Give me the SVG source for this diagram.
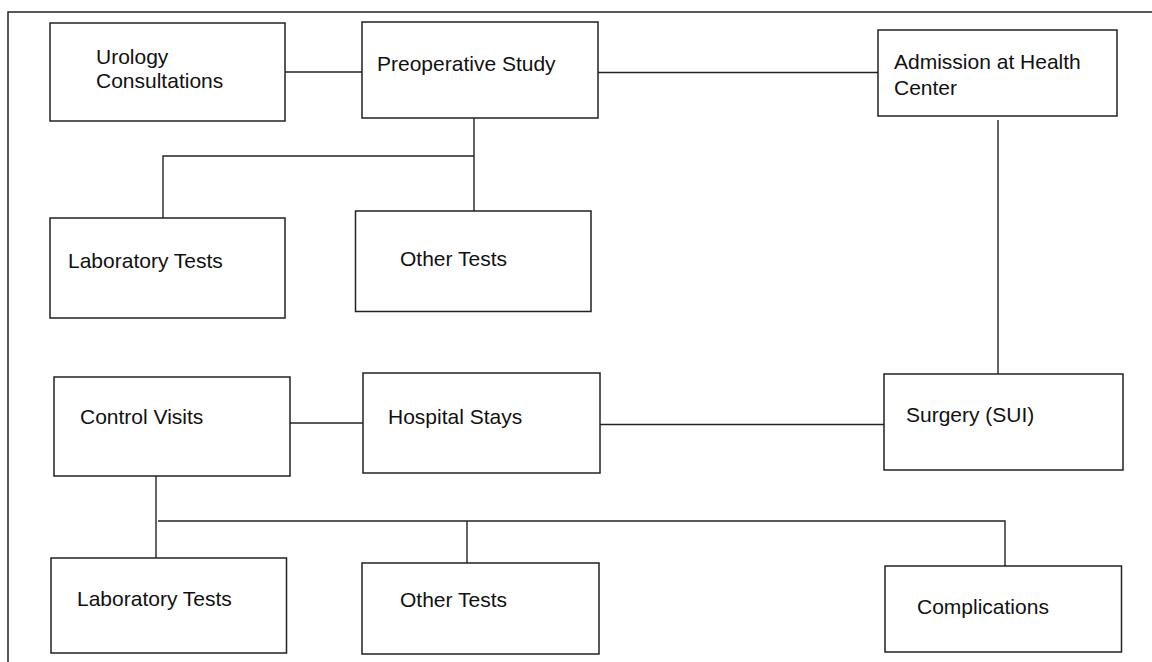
<svg xmlns="http://www.w3.org/2000/svg" width="1152" height="662" viewBox="0 0 1152 662">
<style>
.box{fill:#fff;stroke:#222;stroke-width:1.5}
.lbl{font-family:"Liberation Sans",Arial,sans-serif;font-size:21px;fill:#111}
.con{fill:none;stroke:#222;stroke-width:1.4}
</style>
<rect x="0" y="0" width="1152" height="662" fill="#fff"/>
<rect x="8" y="12" width="1200" height="700" fill="none" stroke="#222" stroke-width="1.5"/>
<g id="connectors">
<line class="con" x1="285" y1="72" x2="362" y2="72"/>
<line class="con" x1="598" y1="72.5" x2="878" y2="72.5"/>
<polyline class="con" points="474,118 474,211"/>
<polyline class="con" points="474,156 163,156 163,218"/>
<line class="con" x1="998" y1="120" x2="998" y2="374"/>
<line class="con" x1="290" y1="423" x2="363" y2="423"/>
<line class="con" x1="600" y1="424.5" x2="884" y2="424.5"/>
<line class="con" x1="156" y1="476" x2="156" y2="558"/>
<polyline class="con" points="158,521 1005,521 1005,566"/>
<line class="con" x1="467" y1="521" x2="467" y2="563"/>
</g>
<g id="urology"><rect class="box" x="50" y="23" width="235" height="98"/><text class="lbl" x="96" y="64">Urology</text><text class="lbl" x="96" y="88">Consultations</text></g>
<g id="preop"><rect class="box" x="362" y="22" width="236" height="96"/><text class="lbl" x="377" y="71">Preoperative Study</text></g>
<g id="admission"><rect class="box" x="878" y="30" width="239" height="86"/><text class="lbl" x="894" y="69">Admission at Health</text><text class="lbl" x="894" y="95">Center</text></g>
<g id="lab1"><rect class="box" x="50" y="218" width="235" height="100"/><text class="lbl" x="68" y="268">Laboratory Tests</text></g>
<g id="other1"><rect class="box" x="355.5" y="211" width="235.5" height="100.5"/><text class="lbl" x="400" y="266">Other Tests</text></g>
<g id="control"><rect class="box" x="54" y="377" width="236" height="99"/><text class="lbl" x="80" y="424">Control Visits</text></g>
<g id="hospital"><rect class="box" x="363" y="373" width="237" height="100"/><text class="lbl" x="388" y="424">Hospital Stays</text></g>
<g id="surgery"><rect class="box" x="884" y="374" width="239" height="96"/><text class="lbl" x="906" y="422">Surgery (SUI)</text></g>
<g id="lab2"><rect class="box" x="51" y="558" width="235.5" height="95"/><text class="lbl" x="77" y="606">Laboratory Tests</text></g>
<g id="other2"><rect class="box" x="362" y="563" width="237" height="91"/><text class="lbl" x="400" y="607">Other Tests</text></g>
<g id="complications"><rect class="box" x="885" y="566" width="236.5" height="86"/><text class="lbl" x="917" y="614">Complications</text></g>
</svg>
